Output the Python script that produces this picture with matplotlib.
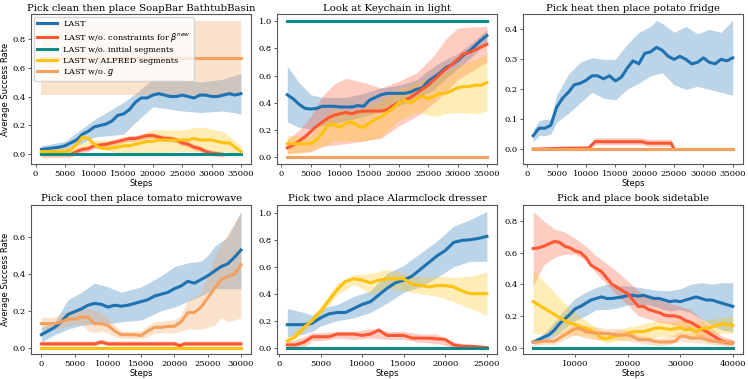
import numpy as np
import matplotlib.pyplot as plt

plt.rcParams['font.family'] = 'DejaVu Serif'
plt.rcParams['mathtext.fontset'] = 'dejavusans'

labels = ['LAST', r'LAST w/o. constraints for $\beta^{new}$', 'LAST w/o. initial segments',
          'LAST w/ ALFRED segments', r'LAST w/o. $g$']
colors = ['#1f72b2', '#ff5733', '#0f8a87', '#ffc20e', '#f5a05c']

# ---- panel 1: Pick clean then place SoapBar BathtubBasin ----
p1_x = np.arange(1000, 36000, 1000)
p1_last = [0.035, 0.04, 0.045, 0.05, 0.06, 0.08, 0.10, 0.14, 0.16, 0.19, 0.20, 0.21, 0.23, 0.27, 0.28, 0.31, 0.36, 0.39,
           0.39, 0.41, 0.42, 0.41, 0.40, 0.40, 0.41, 0.40, 0.39, 0.41, 0.41, 0.40, 0.40, 0.41, 0.42, 0.41, 0.42]
p1_bx = [1000, 5000, 10000, 15000, 17000, 20000, 25000, 28000, 32000, 35000]
p1_last_lo = [0.01, 0.02, 0.12, 0.14, 0.22, 0.33, 0.30, 0.29, 0.30, 0.28]
p1_last_hi = [0.06, 0.09, 0.24, 0.36, 0.42, 0.52, 0.52, 0.50, 0.52, 0.56]
p1_con_x = np.arange(1000, 33000, 1000)
p1_con = [0, 0, 0, 0, 0, 0, 0.02, 0.035, 0.04, 0.06, 0.065, 0.07, 0.08, 0.09, 0.10, 0.11, 0.11, 0.12, 0.13, 0.13,
          0.12, 0.11, 0.11, 0.10, 0.08, 0.07, 0.05, 0.04, 0.02, 0.01, 0.005, 0.0]
p1_init = [0.0] * 35
p1_alf = [0.02, 0.02, 0.02, 0.02, 0.02, 0.03, 0.07, 0.12, 0.11, 0.07, 0.045, 0.04, 0.045, 0.05, 0.06, 0.06, 0.07, 0.08,
          0.09, 0.09, 0.10, 0.10, 0.10, 0.10, 0.10, 0.10, 0.11, 0.10, 0.10, 0.10, 0.09, 0.08, 0.08, 0.05, 0.02]
p1_alf_lo = [0.0, 0.0, 0.05, 0.0, 0.0, 0.01, 0.02, 0.02, 0.02, 0.0]
p1_alf_hi = [0.04, 0.05, 0.10, 0.10, 0.12, 0.17, 0.17, 0.19, 0.16, 0.06]
p1_g = [0.667] * 35
p1_g_lo = [0.41] * 10
p1_g_hi = [0.92] * 10

# ---- panel 2: Look at Keychain in light ----
p2_x = np.arange(1000, 36000, 1000)
p2_last = [0.46, 0.43, 0.39, 0.36, 0.355, 0.36, 0.375, 0.375, 0.375, 0.37, 0.37, 0.37, 0.38, 0.375, 0.42, 0.44, 0.46,
           0.47, 0.47, 0.47, 0.47, 0.48, 0.50, 0.51, 0.56, 0.59, 0.62, 0.66, 0.68, 0.71, 0.75, 0.78, 0.82, 0.86, 0.895]
p2_bx = [1000, 3000, 5000, 7000, 9000, 11000, 14000, 17000, 20000, 23000, 26000, 28000, 30000, 33000, 35000]
p2_last_lo = [0.26, 0.22, 0.21, 0.23, 0.25, 0.27, 0.30, 0.34, 0.38, 0.43, 0.50, 0.58, 0.65, 0.76, 0.85]
p2_last_hi = [0.67, 0.55, 0.46, 0.44, 0.44, 0.44, 0.47, 0.51, 0.53, 0.57, 0.67, 0.72, 0.76, 0.86, 0.94]
p2_con = [0.07, 0.09, 0.12, 0.15, 0.19, 0.23, 0.26, 0.29, 0.31, 0.32, 0.33, 0.32, 0.335, 0.34, 0.34, 0.34, 0.34, 0.35,
          0.38, 0.40, 0.42, 0.44, 0.47, 0.50, 0.53, 0.57, 0.61, 0.65, 0.68, 0.72, 0.76, 0.77, 0.79, 0.81, 0.83]
p2_con_lo = [0.03, 0.035, 0.04, 0.08, 0.09, 0.10, 0.12, 0.14, 0.23, 0.30, 0.40, 0.48, 0.57, 0.65, 0.70]
p2_con_hi = [0.13, 0.20, 0.30, 0.45, 0.54, 0.58, 0.55, 0.51, 0.56, 0.62, 0.75, 0.87, 0.95, 0.96, 0.96]
p2_init = [1.0] * 35
p2_alf = [0.10, 0.10, 0.10, 0.10, 0.10, 0.13, 0.18, 0.24, 0.24, 0.22, 0.25, 0.26, 0.23, 0.22, 0.25, 0.28, 0.30, 0.33,
          0.36, 0.40, 0.42, 0.40, 0.43, 0.45, 0.43, 0.45, 0.47, 0.47, 0.49, 0.51, 0.52, 0.52, 0.53, 0.53, 0.55]
p2_alf_lo = [0.02, 0.03, 0.05, 0.08, 0.12, 0.12, 0.12, 0.15, 0.27, 0.33, 0.30, 0.32, 0.33, 0.32, 0.34]
p2_alf_hi = [0.16, 0.16, 0.16, 0.28, 0.35, 0.34, 0.36, 0.42, 0.50, 0.55, 0.60, 0.63, 0.67, 0.72, 0.76]
p2_g = [0.0] * 35

# ---- panel 3: Pick heat then place potato fridge ----
p3_x = np.arange(1000, 36000, 1000)
p3_last = [0.045, 0.07, 0.07, 0.08, 0.14, 0.17, 0.19, 0.215, 0.22, 0.23, 0.245, 0.245, 0.235, 0.245, 0.228, 0.24, 0.27,
           0.295, 0.285, 0.32, 0.325, 0.34, 0.33, 0.31, 0.30, 0.31, 0.30, 0.285, 0.29, 0.305, 0.29, 0.285, 0.30, 0.295,
           0.305]
p3_bx = [1000, 2000, 3000, 4000, 5000, 7000, 9000, 11000, 13000, 15000, 17000, 19000, 21000, 22000, 23000, 25000,
         27000, 29000, 31000, 33000, 35000]
p3_last_lo = [0.025, 0.045, 0.045, 0.05, 0.09, 0.12, 0.155, 0.19, 0.17, 0.165, 0.20, 0.22, 0.245, 0.25, 0.255, 0.215,
              0.20, 0.21, 0.20, 0.19, 0.18]
p3_last_hi = [0.065, 0.095, 0.10, 0.10, 0.18, 0.25, 0.29, 0.305, 0.30, 0.30, 0.35, 0.39, 0.41, 0.43, 0.42, 0.39, 0.41,
              0.385, 0.40, 0.39, 0.43]
p3_con_x = [1000, 6000, 10500, 11500, 19500, 20500, 24500, 25000]
p3_con = [0.0, 0.003, 0.004, 0.025, 0.025, 0.02, 0.02, 0.0]
p3_con_lo = [0.0, 0.0, 0.0, 0.015, 0.015, 0.01, 0.01, 0.0]
p3_con_hi = [0.0, 0.005, 0.008, 0.038, 0.038, 0.033, 0.033, 0.0]
p3_init = [0.0] * 35
p3_alf = [0.0] * 35
p3_g = [0.0] * 35

# ---- panel 4: Pick cool then place tomato microwave ----
p4_x = np.arange(0, 31000, 1000)
p4_last = [0.07, 0.09, 0.11, 0.14, 0.18, 0.195, 0.21, 0.23, 0.24, 0.235, 0.22, 0.23, 0.225, 0.23, 0.24, 0.25, 0.26,
           0.28, 0.29, 0.30, 0.32, 0.335, 0.36, 0.35, 0.37, 0.39, 0.415, 0.44, 0.455, 0.49, 0.53]
p4_bx = [0, 2000, 4000, 6000, 8000, 10000, 12000, 15000, 18000, 20000, 22000, 24000, 25000, 26000, 28000, 30000]
p4_last_lo = [0.03, 0.07, 0.10, 0.12, 0.13, 0.13, 0.14, 0.15, 0.20, 0.22, 0.25, 0.28, 0.30, 0.32, 0.32, 0.32]
p4_last_hi = [0.11, 0.14, 0.26, 0.30, 0.35, 0.33, 0.30, 0.33, 0.39, 0.44, 0.46, 0.47, 0.50, 0.55, 0.60, 0.74]
p4_con_x = [0, 8000, 9000, 10000, 20000, 20800, 21500, 30000]
p4_con = [0.02, 0.02, 0.03, 0.02, 0.02, 0.01, 0.02, 0.02]
p4_con_lo = [0.01, 0.01, 0.02, 0.01, 0.01, 0.0, 0.01, 0.01]
p4_con_hi = [0.035, 0.035, 0.045, 0.035, 0.035, 0.025, 0.035, 0.035]
p4_init = [0.0] * 31
p4_alf = [0.0] * 31
p4_g = [0.13, 0.13, 0.13, 0.14, 0.155, 0.155, 0.165, 0.165, 0.13, 0.13, 0.12, 0.09, 0.07, 0.07, 0.07, 0.065, 0.09,
        0.11, 0.11, 0.115, 0.115, 0.14, 0.19, 0.19, 0.22, 0.27, 0.32, 0.37, 0.385, 0.40, 0.45]
p4_gx = [0, 2000, 4000, 6000, 7000, 8000, 9000, 10000, 11000, 12000, 14000, 15000, 16000, 17000, 20000, 21000, 22000,
         24000, 26000, 27000, 28000, 30000]
p4_g_lo = [0.10, 0.10, 0.12, 0.13, 0.09, 0.08, 0.09, 0.08, 0.06, 0.05, 0.05, 0.05, 0.06, 0.08, 0.08, 0.09, 0.10,
           0.10, 0.12, 0.16, 0.14, 0.16]
p4_g_hi = [0.165, 0.165, 0.20, 0.22, 0.21, 0.20, 0.19, 0.16, 0.12, 0.09, 0.09, 0.09, 0.12, 0.14, 0.15, 0.18, 0.25,
           0.30, 0.49, 0.56, 0.62, 0.73]

# ---- panel 5: Pick two and place Alarmclock dresser ----
p5_x = np.arange(1000, 26000, 1000)
p5_last = [0.17, 0.17, 0.17, 0.18, 0.22, 0.25, 0.26, 0.26, 0.29, 0.32, 0.34, 0.39, 0.44, 0.48, 0.50, 0.53, 0.58, 0.63,
           0.68, 0.72, 0.78, 0.795, 0.80, 0.81, 0.825]
p5_bx = [1000, 3000, 4000, 5000, 7000, 9000, 11000, 13000, 15000, 17000, 19000, 21000, 23000, 25000]
p5_last_lo = [0.08, 0.10, 0.12, 0.16, 0.20, 0.22, 0.26, 0.33, 0.41, 0.45, 0.52, 0.60, 0.64, 0.64]
p5_last_hi = [0.29, 0.26, 0.24, 0.29, 0.32, 0.38, 0.42, 0.55, 0.61, 0.70, 0.79, 0.90, 0.95, 1.01]
p5_con = [0.02, 0.02, 0.04, 0.08, 0.08, 0.08, 0.10, 0.10, 0.10, 0.09, 0.10, 0.13, 0.09, 0.09, 0.09, 0.07, 0.07, 0.07,
          0.065, 0.06, 0.02, 0.01, 0.01, 0.005, 0.0]
p5_con_lo = [0.0, 0.0, 0.05, 0.05, 0.07, 0.06, 0.07, 0.06, 0.06, 0.04, 0.03, 0.0, 0.0, 0.0]
p5_con_hi = [0.04, 0.08, 0.11, 0.11, 0.12, 0.12, 0.14, 0.12, 0.12, 0.10, 0.10, 0.04, 0.02, 0.01]
p5_init = [0.0] * 25
p5_alf = [0.05, 0.08, 0.15, 0.20, 0.27, 0.35, 0.43, 0.49, 0.51, 0.50, 0.48, 0.50, 0.51, 0.51, 0.51, 0.47, 0.46, 0.45,
          0.46, 0.46, 0.45, 0.42, 0.40, 0.40, 0.40]
p5_alf_lo = [0.03, 0.12, 0.18, 0.24, 0.39, 0.47, 0.40, 0.44, 0.42, 0.40, 0.38, 0.34, 0.29, 0.24]
p5_alf_hi = [0.08, 0.17, 0.23, 0.30, 0.48, 0.54, 0.55, 0.58, 0.55, 0.52, 0.53, 0.52, 0.53, 0.56]

# ---- panel 6: Pick and place book sidetable ----
p6_x = np.arange(2000, 41000, 1000)
p6_last = [0.035, 0.05, 0.065, 0.08, 0.11, 0.15, 0.18, 0.21, 0.245, 0.26, 0.28, 0.30, 0.31, 0.32, 0.31, 0.31, 0.315,
           0.32, 0.33, 0.33, 0.325, 0.33, 0.32, 0.31, 0.31, 0.30, 0.29, 0.295, 0.29, 0.30, 0.31, 0.32, 0.31, 0.30,
           0.30, 0.29, 0.28, 0.27, 0.26]
p6_bx = np.arange(2000, 42000, 2000)
p6_last_lo = [0.025, 0.04, 0.07, 0.12, 0.17, 0.20, 0.24, 0.24, 0.25, 0.27, 0.27, 0.27, 0.25, 0.23, 0.24, 0.22, 0.18,
              0.14, 0.11, 0.10]
p6_last_hi = [0.045, 0.09, 0.16, 0.24, 0.31, 0.35, 0.38, 0.40, 0.39, 0.39, 0.38, 0.37, 0.36, 0.36, 0.37, 0.40, 0.41,
              0.40, 0.41, 0.41]
p6_con = [0.625, 0.63, 0.64, 0.655, 0.67, 0.665, 0.64, 0.63, 0.61, 0.60, 0.57, 0.52, 0.50, 0.48, 0.44, 0.40, 0.38,
          0.36, 0.34, 0.30, 0.26, 0.26, 0.24, 0.23, 0.22, 0.205, 0.20, 0.20, 0.19, 0.17, 0.16, 0.14, 0.12, 0.10, 0.08,
          0.06, 0.04, 0.03, 0.03]
p6_con_lo = [0.39, 0.52, 0.57, 0.59, 0.59, 0.55, 0.47, 0.40, 0.33, 0.27, 0.20, 0.18, 0.16, 0.15, 0.13, 0.10, 0.06,
             0.04, 0.02, 0.01]
p6_con_hi = [0.86, 0.80, 0.75, 0.73, 0.69, 0.64, 0.58, 0.53, 0.48, 0.42, 0.36, 0.32, 0.30, 0.28, 0.26, 0.24, 0.18,
             0.12, 0.07, 0.05]
p6_init = [0.0] * 39
p6_alf = [0.29, 0.27, 0.25, 0.23, 0.21, 0.19, 0.17, 0.155, 0.145, 0.13, 0.12, 0.11, 0.09, 0.06, 0.055, 0.07, 0.075,
          0.08, 0.09, 0.10, 0.10, 0.10, 0.11, 0.12, 0.125, 0.12, 0.115, 0.12, 0.125, 0.11, 0.12, 0.10, 0.12, 0.12,
          0.13, 0.14, 0.15, 0.145, 0.14]
p6_alf_lo = [0.09, 0.085, 0.08, 0.08, 0.08, 0.07, 0.05, 0.03, 0.04, 0.05, 0.06, 0.06, 0.07, 0.07, 0.07, 0.06, 0.07,
             0.08, 0.09, 0.09]
p6_alf_hi = [0.49, 0.42, 0.35, 0.28, 0.22, 0.17, 0.13, 0.09, 0.11, 0.13, 0.14, 0.16, 0.17, 0.16, 0.17, 0.16, 0.17,
             0.18, 0.19, 0.20]
p6_g = [0.035, 0.035, 0.04, 0.04, 0.04, 0.06, 0.08, 0.10, 0.12, 0.12, 0.10, 0.095, 0.09, 0.09, 0.09, 0.085, 0.08,
        0.08, 0.08, 0.07, 0.05, 0.05, 0.05, 0.04, 0.035, 0.035, 0.035, 0.04, 0.07, 0.07, 0.06, 0.06, 0.06, 0.05, 0.04,
        0.04, 0.035, 0.035, 0.03]
p6_g_lo = [0.01, 0.02, 0.02, 0.05, 0.08, 0.06, 0.05, 0.05, 0.05, 0.04, 0.03, 0.02, 0.01, 0.02, 0.04, 0.03, 0.03,
           0.02, 0.01, 0.01]
p6_g_hi = [0.05, 0.06, 0.07, 0.11, 0.16, 0.14, 0.13, 0.12, 0.12, 0.11, 0.08, 0.07, 0.06, 0.07, 0.10, 0.09, 0.08,
           0.07, 0.06, 0.05]

fig, axes = plt.subplots(2, 3, figsize=(7.48, 3.79), dpi=100)
fig.subplots_adjust(left=0.042, right=0.993, top=0.962, bottom=0.065, wspace=0.12, hspace=0.27)

lw = 2.2
a = 0.3


def band(ax, x, lo, hi, c):
    ax.fill_between(x, lo, hi, color=c, alpha=a, lw=0)


# panel 1
ax = axes[0, 0]
ax.plot(p1_x, p1_last, color=colors[0], lw=lw, label=labels[0])
band(ax, p1_bx, p1_last_lo, p1_last_hi, colors[0])
ax.plot(p1_con_x, p1_con, color=colors[1], lw=lw, label=labels[1])
band(ax, p1_con_x, np.array(p1_con) - 0.02, np.array(p1_con) + 0.02, colors[1])
ax.plot(p1_x, p1_init, color=colors[2], lw=lw, label=labels[2])
ax.plot(p1_x, p1_alf, color=colors[3], lw=lw, label=labels[3])
band(ax, p1_bx, p1_alf_lo, p1_alf_hi, colors[3])
ax.plot(p1_x, p1_g, color=colors[4], lw=lw, label=labels[4])
band(ax, p1_bx, p1_g_lo, p1_g_hi, colors[4])
ax.set_title('Pick clean then place SoapBar BathtubBasin')
ax.set_yticks([0.0, 0.2, 0.4, 0.6, 0.8])
ax.set_xticks(range(0, 36000, 5000))
ax.legend(loc='upper left', fontsize=5.9, handlelength=2.4, borderpad=0.4, labelspacing=0.3,
          borderaxespad=0.3)

# panel 2
ax = axes[0, 1]
ax.plot(p2_x, p2_last, color=colors[0], lw=lw)
band(ax, p2_bx, p2_last_lo, p2_last_hi, colors[0])
ax.plot(p2_x, p2_con, color=colors[1], lw=lw)
band(ax, p2_bx, p2_con_lo, p2_con_hi, colors[1])
ax.plot(p2_x, p2_init, color=colors[2], lw=lw)
ax.plot(p2_x, p2_alf, color=colors[3], lw=lw)
band(ax, p2_bx, p2_alf_lo, p2_alf_hi, colors[3])
ax.plot(p2_x, p2_g, color=colors[4], lw=lw)
ax.set_title('Look at Keychain in light')
ax.set_xticks(range(0, 36000, 5000))

# panel 3
ax = axes[0, 2]
ax.plot(p3_x, p3_last, color=colors[0], lw=lw)
band(ax, p3_bx, p3_last_lo, p3_last_hi, colors[0])
ax.plot(p3_con_x, p3_con, color=colors[1], lw=lw)
band(ax, p3_con_x, p3_con_lo, p3_con_hi, colors[1])
ax.plot(p3_x, p3_init, color=colors[2], lw=lw)
ax.plot(p3_x, p3_alf, color=colors[3], lw=lw)
ax.plot(p3_x, p3_g, color=colors[4], lw=lw)
ax.set_title('Pick heat then place potato fridge')
ax.set_xticks(range(0, 36000, 5000))
ax.set_ylim(-0.05, 0.45)

# panel 4
ax = axes[1, 0]
ax.plot(p4_x, p4_last, color=colors[0], lw=lw)
band(ax, p4_bx, p4_last_lo, p4_last_hi, colors[0])
ax.plot(p4_con_x, p4_con, color=colors[1], lw=lw)
band(ax, p4_con_x, p4_con_lo, p4_con_hi, colors[1])
ax.plot(p4_x, p4_init, color=colors[2], lw=lw)
ax.plot(p4_x, p4_alf, color=colors[3], lw=lw)
ax.plot(p4_x, p4_g, color=colors[4], lw=lw)
band(ax, p4_gx, p4_g_lo, p4_g_hi, colors[4])
ax.set_title('Pick cool then place tomato microwave')
ax.set_xticks(range(0, 31000, 5000))

# panel 5
ax = axes[1, 1]
ax.plot(p5_x, p5_last, color=colors[0], lw=lw)
band(ax, p5_bx, p5_last_lo, p5_last_hi, colors[0])
ax.plot(p5_x, p5_con, color=colors[1], lw=lw)
band(ax, p5_bx, p5_con_lo, p5_con_hi, colors[1])
ax.plot(p5_x, p5_alf, color=colors[3], lw=lw)
band(ax, p5_bx, p5_alf_lo, p5_alf_hi, colors[3])
ax.plot(p5_x, p5_init, color=colors[2], lw=lw)
ax.set_title('Pick two and place Alarmclock dresser')
ax.set_xticks(range(0, 26000, 5000))

# panel 6
ax = axes[1, 2]
ax.plot(p6_x, p6_last, color=colors[0], lw=lw)
band(ax, p6_bx, p6_last_lo, p6_last_hi, colors[0])
ax.plot(p6_x, p6_con, color=colors[1], lw=lw)
band(ax, p6_bx, p6_con_lo, p6_con_hi, colors[1])
ax.plot(p6_x, p6_init, color=colors[2], lw=lw)
ax.plot(p6_x, p6_alf, color=colors[3], lw=lw)
band(ax, p6_bx, p6_alf_lo, p6_alf_hi, colors[3])
ax.plot(p6_x, p6_g, color=colors[4], lw=lw)
band(ax, p6_bx, p6_g_lo, p6_g_hi, colors[4])
ax.set_title('Pick and place book sidetable')
ax.set_xticks(range(10000, 41000, 10000))

for ax in axes.flat:
    ax.set_title(ax.get_title(), fontsize=7.3, pad=2.5)
    ax.tick_params(labelsize=6.0, length=2.5, width=0.6, pad=1.5, color='#444444')
    for s in ax.spines.values():
        s.set_color('#555555')
        s.set_linewidth(0.8)
for ax in axes[:, 0]:
    ax.set_ylabel('Average Success Rate', family='DejaVu Sans', fontsize=6, labelpad=2)
for i, ax in enumerate(axes.flat):
    if i != 1:
        ax.set_xlabel('Steps', family='DejaVu Sans', fontsize=6, labelpad=1)

fig.savefig('out.png', dpi=100)
